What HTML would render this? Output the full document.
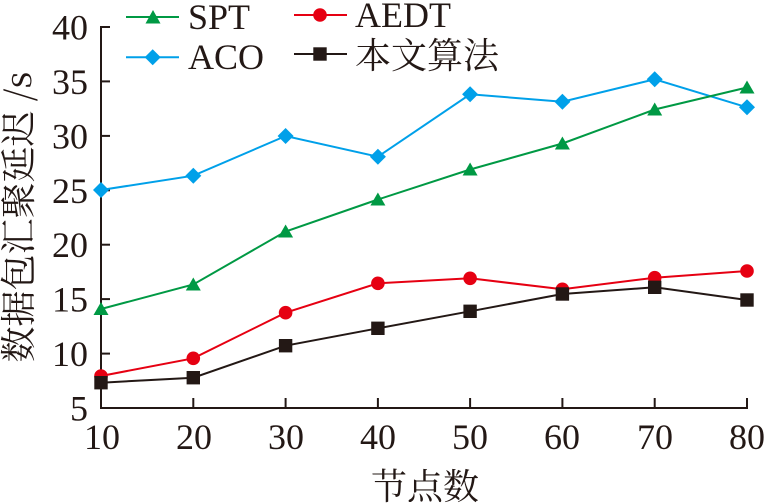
<!DOCTYPE html>
<html>
<head>
<meta charset="utf-8">
<style>
html,body{margin:0;padding:0;background:#fff;}
svg{display:block;}
text{fill:#231815;}
.lat{font-family:"Liberation Serif","DejaVu Serif",serif;}
.cjk{font-family:"Noto Serif CJK SC","Liberation Serif","Noto Sans CJK SC",serif;}
</style>
</head>
<body>
<svg width="767" height="504" viewBox="0 0 767 504" xmlns="http://www.w3.org/2000/svg">
<rect width="767" height="504" fill="#fff"/>
<!-- axes -->
<g stroke="#231815" stroke-width="2" fill="none">
<line x1="101" y1="26" x2="101" y2="409"/>
<line x1="100" y1="408" x2="748" y2="408"/>
<line x1="101" y1="27" x2="110" y2="27"/>
<line x1="101" y1="81.4" x2="110" y2="81.4"/>
<line x1="101" y1="135.9" x2="110" y2="135.9"/>
<line x1="101" y1="190.3" x2="110" y2="190.3"/>
<line x1="101" y1="244.7" x2="110" y2="244.7"/>
<line x1="101" y1="299.1" x2="110" y2="299.1"/>
<line x1="101" y1="353.6" x2="110" y2="353.6"/>
<line x1="193.3" y1="408" x2="193.3" y2="398"/>
<line x1="285.6" y1="408" x2="285.6" y2="398"/>
<line x1="377.9" y1="408" x2="377.9" y2="398"/>
<line x1="470.1" y1="408" x2="470.1" y2="398"/>
<line x1="562.4" y1="408" x2="562.4" y2="398"/>
<line x1="654.7" y1="408" x2="654.7" y2="398"/>
<line x1="747" y1="408" x2="747" y2="398"/>
</g>
<!-- y tick labels -->
<g class="lat" font-family="Liberation Serif, serif" font-size="36" text-anchor="end">
<text x="88" y="39.5">40</text>
<text x="88" y="94">35</text>
<text x="88" y="148.5">30</text>
<text x="88" y="203">25</text>
<text x="88" y="257">20</text>
<text x="88" y="311.5">15</text>
<text x="88" y="366">10</text>
<text x="88" y="420.5">5</text>
</g>
<!-- x tick labels -->
<g class="lat" font-family="Liberation Serif, serif" font-size="36" text-anchor="middle">
<text x="102" y="449">10</text>
<text x="194" y="449">20</text>
<text x="286" y="449">30</text>
<text x="378" y="449">40</text>
<text x="470" y="449">50</text>
<text x="562" y="449">60</text>
<text x="655" y="449">70</text>
<text x="747" y="449">80</text>
</g>
<!-- axis titles -->
<text class="cjk" x="425" y="499" font-size="36" text-anchor="middle">节点数</text>
<text class="cjk" transform="translate(31,217) rotate(-90)" font-size="36" text-anchor="middle">数据包汇聚延迟 /s</text>

<!-- ACO -->
<polyline fill="none" stroke="#00a0e9" stroke-width="2" points="101,190 193.3,175.7 285.6,136 377.9,156.7 470.1,94.3 562.4,101.7 654.7,79.3 747,107.3"/>
<g fill="#00a0e9">
<polygon points="101,182 109,190 101,198 93,190"/>
<polygon points="193.3,167.7 201.3,175.7 193.3,183.7 185.3,175.7"/>
<polygon points="285.6,128 293.6,136 285.6,144 277.6,136"/>
<polygon points="377.9,148.7 385.9,156.7 377.9,164.7 369.9,156.7"/>
<polygon points="470.1,86.3 478.1,94.3 470.1,102.3 462.1,94.3"/>
<polygon points="562.4,93.7 570.4,101.7 562.4,109.7 554.4,101.7"/>
<polygon points="654.7,71.3 662.7,79.3 654.7,87.3 646.7,79.3"/>
<polygon points="747,99.3 755,107.3 747,115.3 739,107.3"/>
</g>
<!-- SPT -->
<polyline fill="none" stroke="#009944" stroke-width="2" points="101,309 193.3,284.5 285.6,231.5 377.9,199.5 470.1,169.5 562.4,143.5 654.7,109.5 747,87.5"/>
<g fill="#009944">
<polygon points="101,302 108.5,315 93.5,315"/>
<polygon points="193.3,277.5 200.8,290.5 185.8,290.5"/>
<polygon points="285.6,224.5 293.1,237.5 278.1,237.5"/>
<polygon points="377.9,192.5 385.4,205.5 370.4,205.5"/>
<polygon points="470.1,162.5 477.6,175.5 462.6,175.5"/>
<polygon points="562.4,136.5 569.9,149.5 554.9,149.5"/>
<polygon points="654.7,102.5 662.2,115.5 647.2,115.5"/>
<polygon points="747,80.5 754.5,93.5 739.5,93.5"/>
</g>
<!-- AEDT -->
<polyline fill="none" stroke="#e60012" stroke-width="2" points="101,376 193.3,358.3 285.6,312.7 377.9,283.3 470.1,278.3 562.4,289.3 654.7,277.7 747,271"/>
<g fill="#e60012">
<circle cx="101" cy="376" r="6.8"/>
<circle cx="193.3" cy="358.3" r="6.8"/>
<circle cx="285.6" cy="312.7" r="6.8"/>
<circle cx="377.9" cy="283.3" r="6.8"/>
<circle cx="470.1" cy="278.3" r="6.8"/>
<circle cx="562.4" cy="289.3" r="6.8"/>
<circle cx="654.7" cy="277.7" r="6.8"/>
<circle cx="747" cy="271" r="6.8"/>
</g>
<!-- 本文算法 -->
<polyline fill="none" stroke="#231815" stroke-width="2" points="101,382.7 193.3,377.7 285.6,345.7 377.9,328.3 470.1,311.3 562.4,294 654.7,287.3 747,300"/>
<g fill="#231815">
<rect x="94.3" y="376" width="13.4" height="13.4"/>
<rect x="186.6" y="371" width="13.4" height="13.4"/>
<rect x="278.9" y="339" width="13.4" height="13.4"/>
<rect x="371.2" y="321.6" width="13.4" height="13.4"/>
<rect x="463.4" y="304.6" width="13.4" height="13.4"/>
<rect x="555.7" y="287.3" width="13.4" height="13.4"/>
<rect x="648" y="280.6" width="13.4" height="13.4"/>
<rect x="740.3" y="293.3" width="13.4" height="13.4"/>
</g>

<!-- legend -->
<line x1="126" y1="17" x2="179" y2="17" stroke="#009944" stroke-width="2"/>
<polygon points="153,10 160.5,23.5 145.5,23.5" fill="#009944"/>
<text class="lat" font-family="Liberation Serif, serif" x="188" y="29" font-size="36">SPT</text>

<line x1="126" y1="57.3" x2="179" y2="57.3" stroke="#00a0e9" stroke-width="2"/>
<polygon points="152.7,49.3 160.7,57.3 152.7,65.3 144.7,57.3" fill="#00a0e9"/>
<text class="lat" font-family="Liberation Serif, serif" x="188" y="69" font-size="36">ACO</text>

<line x1="294" y1="15" x2="347" y2="15" stroke="#e60012" stroke-width="2"/>
<circle cx="320" cy="15" r="6.8" fill="#e60012"/>
<text class="lat" font-family="Liberation Serif, serif" x="355" y="27" font-size="36">AEDT</text>

<line x1="294" y1="54" x2="347" y2="54" stroke="#231815" stroke-width="2"/>
<rect x="313.3" y="47.3" width="13.4" height="13.4" fill="#231815"/>
<text class="cjk" x="355" y="68" font-size="36">本文算法</text>
</svg>
</body>
</html>
